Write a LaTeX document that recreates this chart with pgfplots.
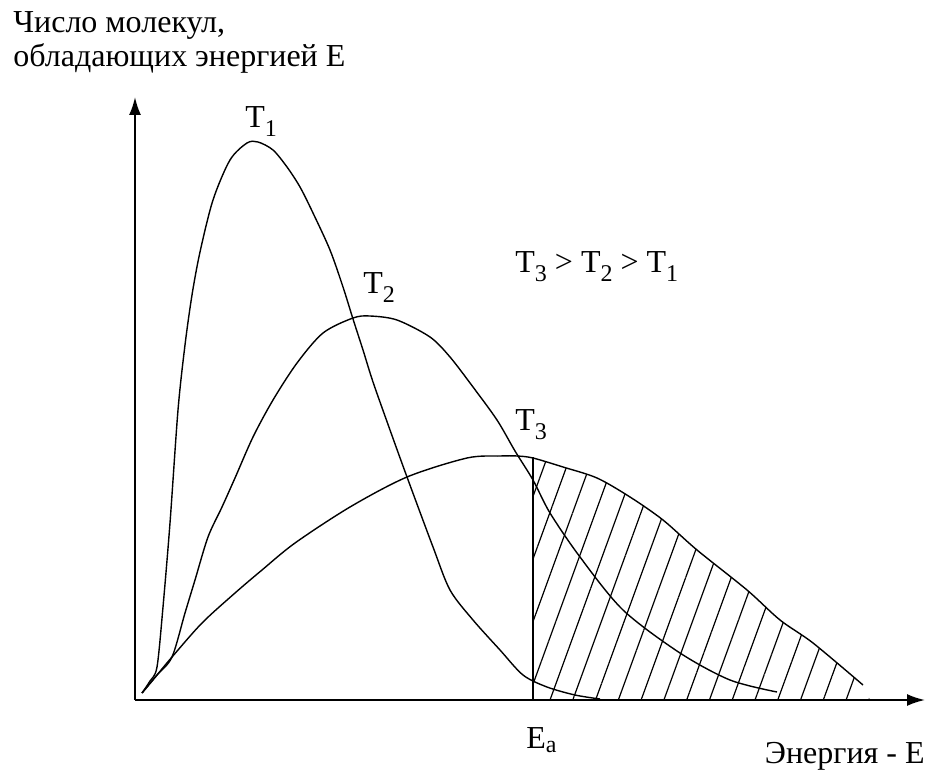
\documentclass[border=0pt]{standalone}
\usepackage{fontspec}
\setmainfont{Liberation Serif}
\usepackage{pgfplots}
\pgfplotsset{compat=1.18}
\usepgfplotslibrary{fillbetween}
\usetikzlibrary{arrows.meta,patterns.meta}
\newcommand{\sub}[1]{\raisebox{-4.5pt}{\fontsize{12}{12}\selectfont #1}}
\begin{document}
\begin{tikzpicture}
\begin{axis}[
    scale only axis, width=395pt, height=301.5pt,
    xmin=135, xmax=925, ymin=0, ymax=603,
    axis lines=left, ticks=none,
    axis line style={line width=1pt, -{Latex[length=9pt,width=6pt]}},
    clip=false,
    every axis plot/.append style={line width=0.7pt, black},
]
% T1
\addplot[smooth] coordinates {
    (142,7) (150,19) (157,33) (163,93) (170,177) (178,290) (185,355)
    (192,405) (200,448) (213,500) (230,540) (247,557) (258,558)
    (273,550) (287,533) (300,513) (313,487) (330,450) (343,413) (353,381)
    (363,350) (373,318) (390,270) (407,223) (433,153) (450,110)
    (473,80) (500,50) (523,25) (547,13) (575,5) (600,1)
};
% T2
\addplot[smooth] coordinates {
    (142,7) (157,25) (172,43) (185,87) (195,120) (208,163) (222,193)
    (235,222) (253,263) (273,300) (297,337) (323,367) (353,382) (370,384)
    (397,380) (430,363) (450,343) (473,313) (497,280) (515,249) (533,220)
    (550,187) (580,143) (623,90) (680,47) (730,20) (777,8)
};
% T3
\addplot[smooth, name path=T3] coordinates {
    (142,7) (157,25) (172,43) (202,77) (235,107) (262,130) (295,157)
    (350,193) (407,223) (467,242) (500,244) (517,244) (533,242) (563,233)
    (597,222) (630,203) (663,180) (697,150) (747,110) (780,80) (813,57) (863,15)
};
\addplot[draw=none, name path=base] coordinates {(533,0) (870,0)};
\addplot[draw=none, pattern={Lines[angle=70, distance=10.7pt, line width=0.6pt]}]
    fill between[of=T3 and base, soft clip={domain=533:870}];
% Ea
\addplot[line width=0.8pt] coordinates {(533,0) (533,243)};

\node[anchor=base west, inner sep=0, font=\fontsize{16}{17}\selectfont] at (axis cs:13,667) {Число молекул,};
\node[anchor=base west, inner sep=0, font=\fontsize{16}{17}\selectfont] at (axis cs:13,633) {обладающих энергией E};
\node[anchor=base west, inner sep=0, font=\fontsize{16}{17}\selectfont] at (axis cs:245,572) {T\sub{1}};
\node[anchor=base west, inner sep=0, font=\fontsize{16}{17}\selectfont] at (axis cs:363,407) {T\sub{2}};
\node[anchor=base west, inner sep=0, font=\fontsize{16}{17}\selectfont] at (axis cs:515,270) {T\sub{3}};
\node[anchor=base west, inner sep=0, font=\fontsize{16}{17}\selectfont] at (axis cs:515,428) {T\sub{3} > T\sub{2} > T\sub{1}};
\node[anchor=base west, inner sep=0, font=\fontsize{16}{17}\selectfont] at (axis cs:526,-48) {E\raisebox{-2pt}{\fontsize{12}{12}\selectfont a}};
\node[anchor=base east, inner sep=0, font=\fontsize{16}{17}\selectfont] at (axis cs:925,-63) {Энергия - E};
\coordinate (bbl) at (axis cs:0,-72);
\coordinate (btr) at (axis cs:929,700);
\end{axis}
\pgfresetboundingbox
\path[use as bounding box] (bbl) rectangle (btr);
\end{tikzpicture}
\end{document}
